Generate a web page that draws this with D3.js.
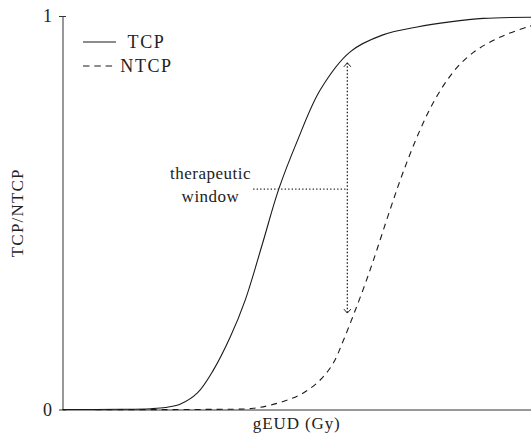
<!DOCTYPE html>
<html>
<head>
<meta charset="utf-8">
<script src="https://cdn.jsdelivr.net/npm/d3@7"></script>
<style>
  html, body { margin: 0; padding: 0; background: #fff; }
  svg { display: block; }
</style>
</head>
<body>
<svg id="chart" width="531" height="434"></svg>
<script>
// Dose axis (arbitrary gEUD units) and response probabilities
const tcpDose  = [0, 12.4, 18.8, 22.0, 25.2, 28.8, 32.2, 35.8, 39.0, 42.6, 46.1, 50.1, 55.0, 61.4, 68.4, 75.7, 82.7, 89.8, 100];
const tcpProb  = [0, 0.0005, 0.002, 0.005, 0.014, 0.042, 0.100, 0.184, 0.278, 0.418, 0.558, 0.682, 0.812, 0.909, 0.952, 0.972, 0.985, 0.994, 0.997];

const ntcpDose = [0, 30.0, 40.7, 44.3, 48.0, 51.4, 55.0, 57.8, 59.9, 62.0, 64.2, 66.3, 69.9, 72.7, 76.3, 79.1, 82.1, 84.9, 88.1, 91.3, 94.9, 100];
const ntcpProb = [0, 0.0002, 0.003, 0.011, 0.024, 0.042, 0.075, 0.118, 0.174, 0.237, 0.306, 0.377, 0.507, 0.603, 0.710, 0.779, 0.837, 0.878, 0.911, 0.934, 0.954, 0.975];

const yTickValues = [0, 1];
const yTickLabels = ["0", "1"];
const seriesNames = ["TCP", "NTCP"];

// Therapeutic window annotation: vertical double arrow and leader line
const windowDose   = 60.8;
const windowTop    = 0.881;
const windowBottom = 0.245;
const leaderFrom   = 40.7;
const leaderLevel  = 0.560;
const windowLabel  = ["therapeutic", "window"];

const FONT = "Liberation Serif, DejaVu Serif, serif";

const svg = d3.select("#chart");
const margin = { left: 62.5, right: 0, top: 16, bottom: 24.5 };
const W = 531, H = 434;

const x = d3.scaleLinear().domain([0, 100]).range([margin.left, W - margin.right]);
const y = d3.scaleLinear().domain([0, 1]).range([H - margin.bottom, margin.top]);

// axes
const yAxis = d3.axisLeft(y)
  .tickValues(yTickValues)
  .tickFormat((d, i) => yTickLabels[i])
  .tickSizeInner(3.5)
  .tickSizeOuter(0)
  .tickPadding(7);
const gy = svg.append("g").attr("transform", `translate(${margin.left},0)`).call(yAxis);
gy.attr("font-size", 18).attr("font-family", FONT);
gy.select(".domain").attr("stroke", "#333").attr("stroke-width", 1);
gy.selectAll(".tick line").attr("stroke", "#333").attr("x2", 3.5).attr("x1", -3.5);
gy.selectAll(".tick text").attr("fill", "#222");

const xAxis = d3.axisBottom(x).tickValues([]).tickSizeOuter(0);
const gx = svg.append("g").attr("transform", `translate(0,${y(0)})`).call(xAxis);
gx.select(".domain").attr("stroke", "#333").attr("stroke-width", 1);

function label(sel) {
  return sel.attr("font-family", FONT).attr("fill", "#222");
}

// axis titles
label(svg.append("text"))
  .attr("x", (x(0) + x(100)) / 2).attr("y", 429)
  .attr("text-anchor", "middle").attr("font-size", 17).attr("letter-spacing", 0.9)
  .text("gEUD (Gy)");
label(svg.append("text"))
  .attr("transform", `translate(23,${(y(0) + y(1)) / 2}) rotate(-90)`)
  .attr("text-anchor", "middle").attr("font-size", 17).attr("letter-spacing", 1.2)
  .text("TCP/NTCP");

// curves
const line = d3.line().x(d => x(d[0])).y(d => y(d[1])).curve(d3.curveCatmullRom.alpha(0.5));
svg.append("path")
  .datum(d3.zip(tcpDose, tcpProb))
  .attr("d", line).attr("fill", "none").attr("stroke", "#1a1a1a").attr("stroke-width", 1.1);
svg.append("path")
  .datum(d3.zip(ntcpDose, ntcpProb))
  .attr("d", line).attr("fill", "none").attr("stroke", "#1a1a1a").attr("stroke-width", 1.1)
  .attr("stroke-dasharray", "6,5");

// therapeutic window arrow
const dotted = "1.3,2.2";
svg.append("line")
  .attr("x1", x(windowDose)).attr("x2", x(windowDose))
  .attr("y1", y(windowTop)).attr("y2", y(windowBottom))
  .attr("stroke", "#222").attr("stroke-width", 1.3).attr("stroke-dasharray", dotted);
function head(px, py, dir) {
  svg.append("path")
    .attr("d", `M${px - 3.5},${py + dir * 4} L${px},${py} L${px + 3.5},${py + dir * 4}`)
    .attr("fill", "none").attr("stroke", "#222").attr("stroke-width", 1);
}
head(x(windowDose), y(windowTop), 1);
head(x(windowDose), y(windowBottom), -1);
svg.append("line")
  .attr("x1", x(leaderFrom)).attr("x2", x(windowDose))
  .attr("y1", y(leaderLevel)).attr("y2", y(leaderLevel))
  .attr("stroke", "#222").attr("stroke-width", 1.3).attr("stroke-dasharray", dotted);

const lab = label(svg.append("text")).attr("text-anchor", "middle").attr("font-size", 17).attr("letter-spacing", 0.5);
lab.append("tspan").attr("x", 210.5).attr("y", 179).text(windowLabel[0]);
lab.append("tspan").attr("x", 210.5).attr("y", 202).text(windowLabel[1]);

// legend
const legend = svg.append("g");
seriesNames.forEach((name, i) => {
  const ly = 42 + i * 24;
  legend.append("line")
    .attr("x1", 83).attr("x2", 116).attr("y1", ly).attr("y2", ly)
    .attr("stroke", "#1a1a1a").attr("stroke-width", 1.1)
    .attr("stroke-dasharray", i === 1 ? "6.5,4.8" : null);
  label(legend.append("text"))
    .attr("x", 146.5).attr("y", ly + 6).attr("text-anchor", "middle")
    .attr("font-size", 18).attr("letter-spacing", 1.6)
    .text(name);
});
</script>
</body>
</html>
